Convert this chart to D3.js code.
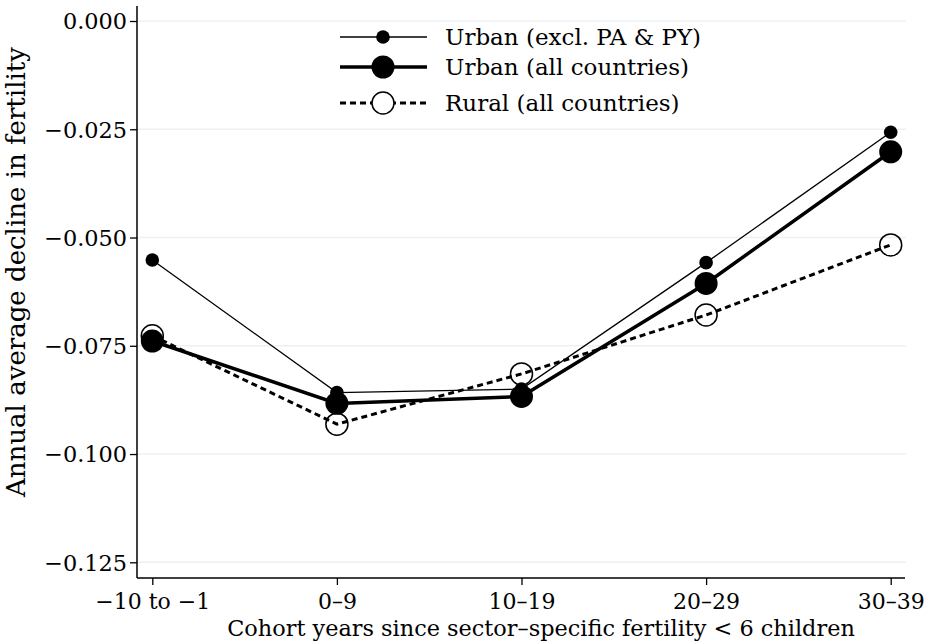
<!DOCTYPE html>
<html>
<head>
<meta charset="utf-8">
<script src="https://cdn.jsdelivr.net/npm/d3@7"></script>
<style>
  body { margin: 0; background: #fff; }
  text { font-family: "DejaVu Serif", serif; fill: #000; }
</style>
</head>
<body>
<svg></svg>
<script>
//categories on the x axis
let categories = ["\u221210 to \u22121", "0\u20139", "10\u201319", "20\u201329", "30\u201339"];
//series values
let urbanExcl = [-0.0552, -0.0858, -0.085, -0.0558, -0.0257];
let urbanAll = [-0.0739, -0.0883, -0.0867, -0.0606, -0.0302];
let rural = [-0.0727, -0.0931, -0.0815, -0.0679, -0.0517];
//y tick values and labels
let yTicks = [0, -0.025, -0.05, -0.075, -0.1, -0.125];
let yTickLabels = ["0.000", "\u22120.025", "\u22120.050", "\u22120.075", "\u22120.100", "\u22120.125"];
let legendLabels = ["Urban (excl. PA & PY)", "Urban (all countries)", "Rural (all countries)"];

let width = 935;
let height = 644;
let plotLeft = 137;
let plotRight = 905;
let plotTop = 6;
let plotBottom = 578;

let svg = d3.select("svg");
let xScale;
let yScale;

let drawCanvas = () => {
  svg.attr("width", width);
  svg.attr("height", height);
};

let generateScales = () => {
  xScale = d3.scalePoint().domain(categories).range([152.3, 890.7]);
  yScale = d3.scaleLinear().domain([-0.125, 0]).range([562.3, 21]);
};

let drawGrid = () => {
  svg
    .append("g")
    .selectAll("line")
    .data(yTicks)
    .enter()
    .append("line")
    .attr("x1", plotLeft)
    .attr("x2", plotRight + 1)
    .attr("y1", (d) => yScale(d))
    .attr("y2", (d) => yScale(d))
    .attr("stroke", "#ecf2f4")
    .attr("stroke-width", 1.5);
};

let generateAxes = () => {
  let yAxis = d3
    .axisLeft(yScale)
    .tickValues(yTicks)
    .tickSize(7)
    .tickPadding(3)
    .tickFormat((d, i) => yTickLabels[i]);
  let gy = svg
    .append("g")
    .attr("id", "y-axis")
    .attr("transform", "translate(" + plotLeft + ", 0)")
    .call(yAxis);
  gy.select(".domain").remove();
  gy.append("line")
    .attr("y1", plotTop)
    .attr("y2", plotBottom)
    .attr("stroke", "#000")
    .attr("stroke-width", 1.5);
  gy.selectAll(".tick line").attr("stroke-width", 1.3);
  gy.selectAll(".tick text")
    .attr("font-size", 22.4)
    .attr("font-family", "DejaVu Serif")
    .attr("dy", "0.35em");

  let xAxis = d3.axisBottom(xScale).tickSize(7).tickPadding(8);
  let gx = svg
    .append("g")
    .attr("id", "x-axis")
    .attr("transform", "translate(0, " + plotBottom + ")")
    .call(xAxis);
  gx.select(".domain").remove();
  gx.append("line")
    .attr("x1", plotLeft)
    .attr("x2", plotRight)
    .attr("stroke", "#000")
    .attr("stroke-width", 1.5);
  gx.selectAll(".tick line").attr("stroke-width", 1.3);
  gx.selectAll(".tick text")
    .attr("font-size", 22)
    .attr("font-family", "DejaVu Serif")
    .attr("dy", "0.71em");

  //axis titles
  svg
    .append("text")
    .attr("x", 541)
    .attr("y", 636)
    .attr("text-anchor", "middle")
    .attr("font-size", 22.4)
    .text("Cohort years since sector\u2013specific fertility < 6 children");
  svg
    .append("text")
    .attr("transform", "translate(25, 272) rotate(-90)")
    .attr("text-anchor", "middle")
    .attr("font-size", 26)
    .text("Annual average decline in fertility");
};

//styles for the three series
let series = [
  { values: rural, width: 3, dash: "6,4", r: 11, fill: "none", ring: 1.5 },
  { values: urbanExcl, width: 1.3, dash: null, r: 6.8, fill: "#000", ring: 0 },
  { values: urbanAll, width: 3.5, dash: null, r: 11.5, fill: "#000", ring: 0 },
];

let drawLines = () => {
  let line = d3
    .line()
    .x((d, i) => xScale(categories[i]))
    .y((d) => yScale(d));
  series.forEach((s) => {
    svg
      .append("path")
      .attr("d", line(s.values))
      .attr("fill", "none")
      .attr("stroke", "#000")
      .attr("stroke-width", s.width)
      .attr("stroke-dasharray", s.dash);
    svg
      .append("g")
      .selectAll("circle")
      .data(s.values)
      .enter()
      .append("circle")
      .attr("cx", (d, i) => xScale(categories[i]))
      .attr("cy", (d) => yScale(d))
      .attr("r", s.r)
      .attr("fill", s.fill)
      .attr("stroke", s.ring ? "#000" : "none")
      .attr("stroke-width", s.ring);
  });
};

let drawLegend = () => {
  let legendSeries = [series[1], series[2], series[0]];
  let rowY = [37, 67, 103];
  let g = svg.append("g").attr("id", "legend");
  legendSeries.forEach((s, i) => {
    g.append("line")
      .attr("x1", 340)
      .attr("x2", 427)
      .attr("y1", rowY[i])
      .attr("y2", rowY[i])
      .attr("stroke", "#000")
      .attr("stroke-width", s.width)
      .attr("stroke-dasharray", s.dash);
    g.append("circle")
      .attr("cx", 383)
      .attr("cy", rowY[i])
      .attr("r", s.r)
      .attr("fill", s.fill === "none" ? "#fff" : s.fill)
      .attr("stroke", s.ring ? "#000" : "none")
      .attr("stroke-width", s.ring);
    g.append("text")
      .attr("x", 445)
      .attr("y", rowY[i])
      .attr("dy", "0.35em")
      .attr("font-size", 23)
      .text(legendLabels[i]);
  });
};

drawCanvas();
generateScales();
drawGrid();
generateAxes();
drawLines();
drawLegend();
</script>
</body>
</html>
